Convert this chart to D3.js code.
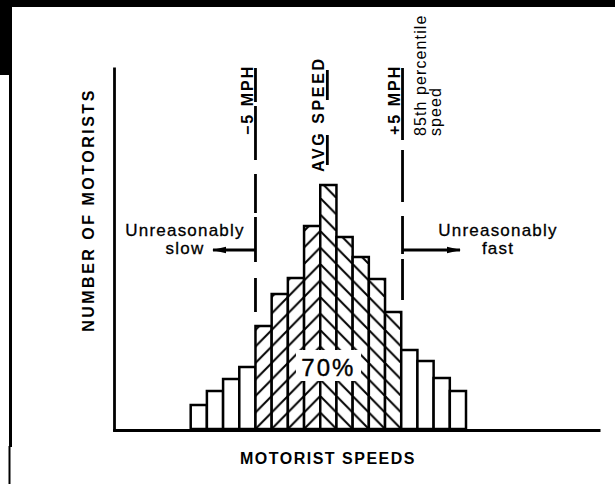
<!DOCTYPE html>
<html><head><meta charset="utf-8">
<script src="https://cdn.jsdelivr.net/npm/d3@7"></script>
<style>
body{margin:0;background:#fff}
svg{display:block}
text{font-family:"Liberation Sans",Arial,Helvetica,sans-serif;fill:#000}
</style>
</head><body>
<svg id="c" width="615" height="484"></svg>
<script>
// ---- data ----
const bins = [1,2,3,4,5,6,7,8,9,10,11,12,13,14,15,16,17];
const counts = [24,38,50,62,103,135,151,203,244,192,172,150,117,79,68,51,38];
const hatchUp = [5,6,7,8];          // "/" hatching (within 70% band, below average)
const hatchDown = [9,10,11,12,13];  // "\" hatching (average and above)
const xTitle = "MOTORIST SPEEDS";
const yTitle = "NUMBER OF MOTORISTS";
const markerLabels = ["\u22125 MPH", "AVG SPEED", "+5 MPH"];
const pctLabel = ["85th percentile", "speed"];
const zoneLabels = [["Unreasonably","slow"],["Unreasonably","fast"]];
const shareLabel = "70%";

const svg = d3.select("#c");

// frame (scan border)
svg.append("rect").attr("x",0).attr("y",0).attr("width",615).attr("height",7).attr("fill","#000");
svg.append("rect").attr("x",0).attr("y",0).attr("width",12).attr("height",75).attr("fill","#000");
svg.append("line").attr("x1",10.5).attr("x2",10.5).attr("y1",74).attr("y2",447).attr("stroke","#000").attr("stroke-width",3);
svg.append("line").attr("x1",9.5).attr("x2",9.5).attr("y1",446).attr("y2",484).attr("stroke","#000").attr("stroke-width",2);

// scales
const x = d3.scaleBand().domain(bins).range([190.7, 466]).paddingInner(0).paddingOuter(0);
const y = d3.scaleLinear().domain([0, 360]).range([429, 69]);
const bw = x.bandwidth();

// hatch patterns, mirrored at the boundary between bins 8 and 9
const x0 = x(9);
const defs = svg.append("defs");
const ph = 16.5;
const pu = defs.append("pattern").attr("id","hu").attr("patternUnits","userSpaceOnUse")
  .attr("x",x0).attr("y",y(0)).attr("width",bw).attr("height",ph);
pu.append("rect").attr("width",bw).attr("height",ph).attr("fill","#fff");
pu.append("path").attr("d",`M0,${ph}L${bw},0M-2,2L2,-2M${bw-2},${ph+2}L${bw+2},${ph-2}`)
  .attr("stroke","#000").attr("stroke-width",2);
const pd = defs.append("pattern").attr("id","hd").attr("patternUnits","userSpaceOnUse")
  .attr("x",x0).attr("y",y(0)).attr("width",bw).attr("height",ph);
pd.append("rect").attr("width",bw).attr("height",ph).attr("fill","#fff");
pd.append("path").attr("d",`M0,0L${bw},${ph}M-2,-2L2,2M${bw-2},${ph-2}L${bw+2},${ph+2}`)
  .attr("stroke","#000").attr("stroke-width",2);

// bars
const data = bins.map((b,i)=>({b, v:counts[i]}));
svg.append("g").selectAll("rect").data(data).join("rect")
  .attr("x", d=>x(d.b)).attr("width", bw)
  .attr("y", d=>y(d.v)).attr("height", d=>y(0)-y(d.v))
  .attr("fill", d=> hatchUp.includes(d.b) ? "url(#hu)" : hatchDown.includes(d.b) ? "url(#hd)" : "#fff")
  .attr("stroke","#000").attr("stroke-width",2.5).attr("stroke-linejoin","miter");

// axes (no ticks)
const yAxisScale = d3.scaleLinear().domain([0,360]).range([431, 67]);
svg.append("g").attr("transform","translate(114,0)")
  .call(d3.axisLeft(yAxisScale).tickValues([]).tickSizeOuter(0))
  .select(".domain").attr("stroke","#000").attr("stroke-width",2.8);
const xAxisScale = d3.scaleLinear().domain([0,1]).range([112.6, 600]);
svg.append("g").attr("transform",`translate(0,${y(0)+1})`)
  .call(d3.axisBottom(xAxisScale).tickValues([]).tickSizeOuter(0))
  .select(".domain").attr("stroke","#000").attr("stroke-width",2.8);

// 70% label box
const midX = x(9) + bw/2;
svg.append("rect").attr("x",296).attr("y",350).attr("width",65).attr("height",31).attr("fill","#fff");
svg.append("text").attr("x",midX).attr("y",376).attr("text-anchor","middle")
  .attr("font-size",24).attr("letter-spacing",2).attr("stroke","#000").attr("stroke-width",0.4).text(shareLabel);

// reference lines
const leftX = x(5), rightX = x(14) + 1.3;
svg.append("line").attr("x1",leftX).attr("x2",leftX).attr("y1",68).attr("y2",312)
  .attr("stroke","#000").attr("stroke-width",2.8).attr("stroke-dasharray","34,4,54,14,39,4,45,16,34,40");
svg.append("line").attr("x1",rightX).attr("x2",rightX).attr("y1",68).attr("y2",300)
  .attr("stroke","#000").attr("stroke-width",2.8).attr("stroke-dasharray","72,10,52,14,38,5,45,40");
svg.append("line").attr("x1",midX-1).attr("x2",midX-1).attr("y1",70).attr("y2",165)
  .attr("stroke","#000").attr("stroke-width",2.8).attr("stroke-dasharray","30,35,30,40");

// rotated labels
function vtext(bx, by, str, size, weight, ls){
  svg.append("text").attr("transform",`translate(${bx},${by}) rotate(-90)`)
    .attr("font-size",size).attr("font-weight",weight).attr("letter-spacing",ls).text(str);
}
vtext(leftX-2, 135, markerLabels[0], 16, "bold", 2);
vtext(midX-4, 172, markerLabels[1], 16, "bold", 2.6);
vtext(rightX-2.5, 135, markerLabels[2], 16, "bold", 2);
vtext(rightX+23, 136, pctLabel[0], 16, "normal", 1.1);
vtext(rightX+38, 136, pctLabel[1], 16, "normal", 1.1);

// axis titles
svg.append("text").attr("transform","translate(94,210) rotate(-90)").attr("text-anchor","middle")
  .attr("font-size",16).attr("font-weight","bold").attr("letter-spacing",2.5).text(yTitle);
svg.append("text").attr("x",328).attr("y",464).attr("text-anchor","middle")
  .attr("font-size",16).attr("font-weight","bold").attr("letter-spacing",1.5).text(xTitle);

// zone labels + arrows
defs.append("marker").attr("id","ah").attr("viewBox","0 0 14 8").attr("refX",13).attr("refY",4)
  .attr("markerWidth",14).attr("markerHeight",8).attr("markerUnits","userSpaceOnUse").attr("orient","auto")
  .append("path").attr("d","M0,0.8L14,4L0,7.2Z").attr("fill","#000");
const ay = 250;
svg.append("line").attr("x1",leftX).attr("x2",213).attr("y1",ay).attr("y2",ay)
  .attr("stroke","#000").attr("stroke-width",2.8).attr("marker-end","url(#ah)");
svg.append("line").attr("x1",rightX).attr("x2",460).attr("y1",ay).attr("y2",ay)
  .attr("stroke","#000").attr("stroke-width",2.8).attr("marker-end","url(#ah)");
[[185, zoneLabels[0]],[498, zoneLabels[1]]].forEach(([cx, lines])=>{
  lines.forEach((s,i)=>{
    svg.append("text").attr("x",cx).attr("y",236 + i*18).attr("text-anchor","middle")
      .attr("font-size",17).attr("letter-spacing",1.2).attr("stroke","#000").attr("stroke-width",0.3).text(s);
  });
});
</script>
</body></html>
